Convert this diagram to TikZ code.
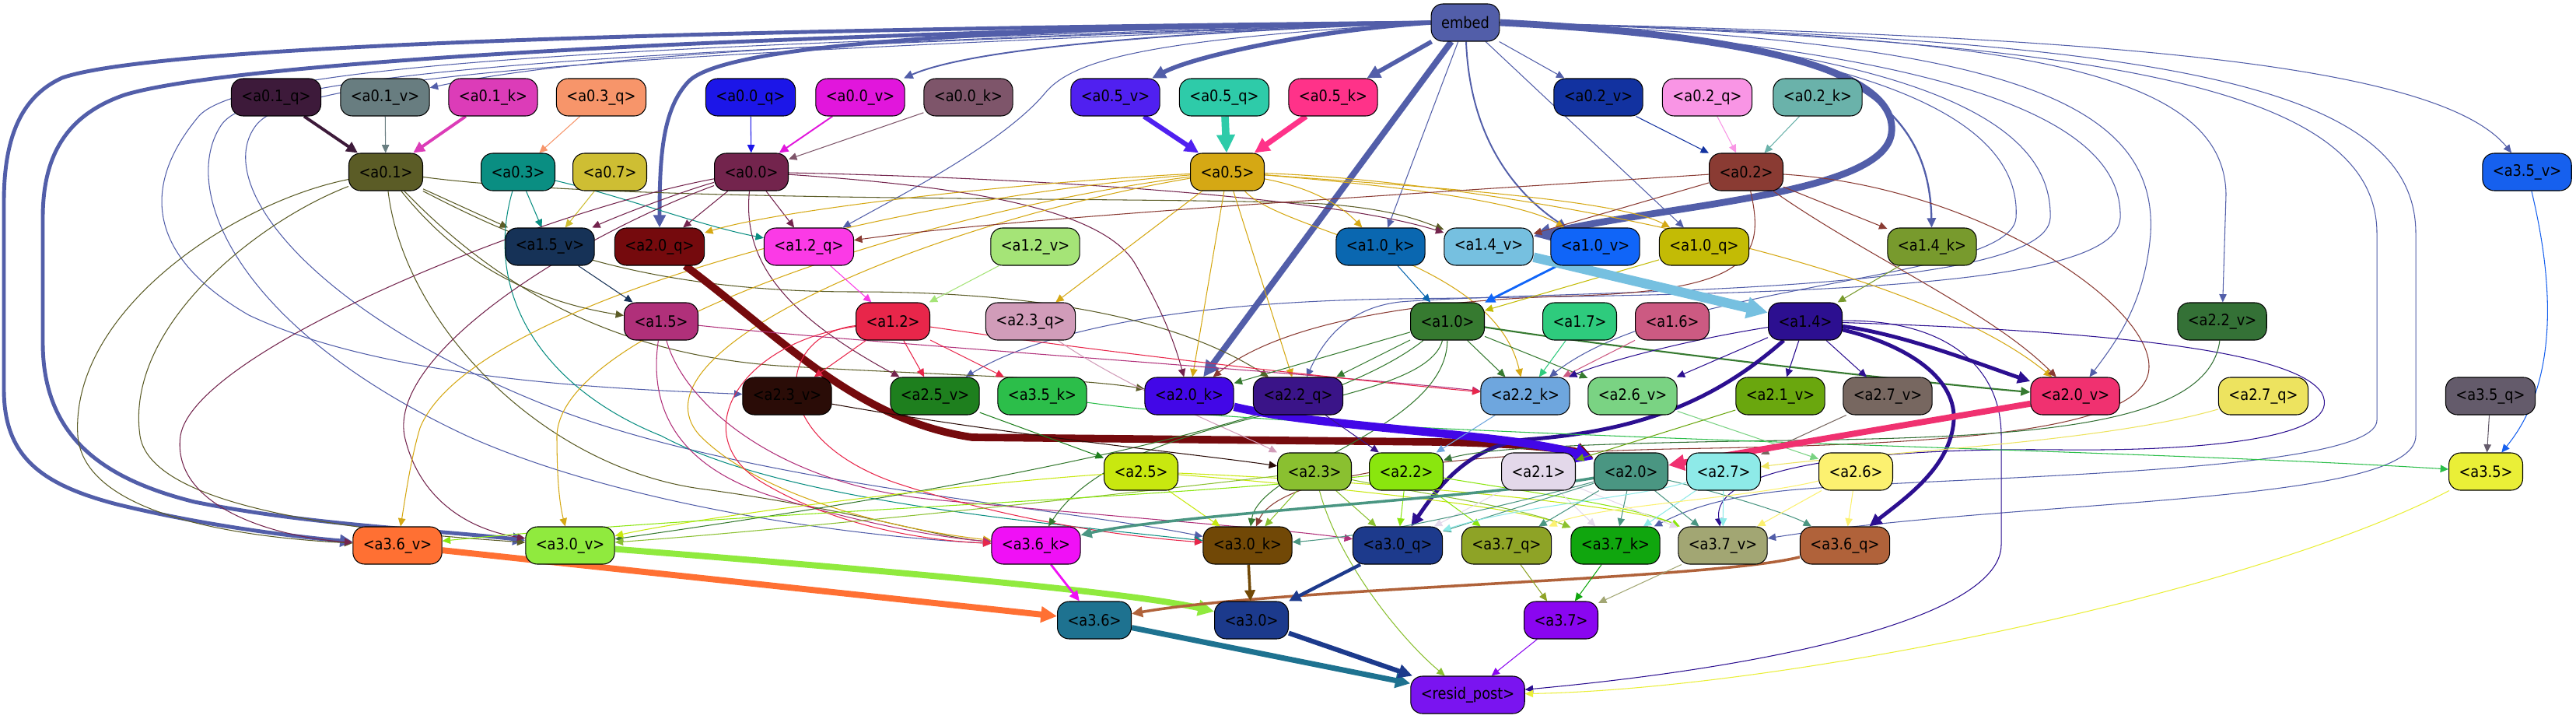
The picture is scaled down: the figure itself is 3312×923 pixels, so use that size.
\documentclass[tikz,border=0pt]{standalone}
\usepackage{fontspec}
\usetikzlibrary{arrows.meta}
\newfontfamily\nodefont[FakeStretch=0.88]{DejaVu Sans}
\pgfdeclarelayer{bg}
\pgfsetlayers{bg,main}
\definecolor{cE}{HTML}{525EA9}
\definecolor{c01q}{HTML}{3D1A3A}
\definecolor{c01v}{HTML}{687D80}
\definecolor{c01k}{HTML}{DC3CB8}
\definecolor{c03q}{HTML}{F7956A}
\definecolor{c00q}{HTML}{1C16E8}
\definecolor{c00v}{HTML}{E116DC}
\definecolor{c00k}{HTML}{7E556A}
\definecolor{c05v}{HTML}{5020F0}
\definecolor{c05q}{HTML}{2ECBA9}
\definecolor{c05k}{HTML}{FF3289}
\definecolor{c02v}{HTML}{1232A0}
\definecolor{c02q}{HTML}{F995E5}
\definecolor{c02k}{HTML}{6AB2AA}
\definecolor{c01}{HTML}{5B5C26}
\definecolor{c03}{HTML}{0A8E82}
\definecolor{c07}{HTML}{CEBE33}
\definecolor{c00}{HTML}{73244D}
\definecolor{c05}{HTML}{D5A814}
\definecolor{c02}{HTML}{8A3B33}
\definecolor{c35v}{HTML}{1660EE}
\definecolor{c15v}{HTML}{163257}
\definecolor{c20q}{HTML}{750A0D}
\definecolor{c12q}{HTML}{FB3AE6}
\definecolor{c12v}{HTML}{A5E477}
\definecolor{c10k}{HTML}{0A67B0}
\definecolor{c14v}{HTML}{76C0E0}
\definecolor{c10v}{HTML}{1065F8}
\definecolor{c10q}{HTML}{C3BB05}
\definecolor{c14k}{HTML}{789A2D}
\definecolor{c15}{HTML}{B0307A}
\definecolor{c12}{HTML}{E8264A}
\definecolor{c23q}{HTML}{D19CB9}
\definecolor{c10}{HTML}{367A30}
\definecolor{c17}{HTML}{2ECB7D}
\definecolor{c16}{HTML}{CC5A82}
\definecolor{c14}{HTML}{2C0F90}
\definecolor{c22v}{HTML}{347136}
\definecolor{c23v}{HTML}{2A0C07}
\definecolor{c25v}{HTML}{1E7F1E}
\definecolor{c35k}{HTML}{2CBE4A}
\definecolor{c20k}{HTML}{4207E7}
\definecolor{c22q}{HTML}{3A1488}
\definecolor{c22k}{HTML}{6EA6DE}
\definecolor{c26v}{HTML}{7AD383}
\definecolor{c21v}{HTML}{6AA70E}
\definecolor{c27v}{HTML}{776760}
\definecolor{c20v}{HTML}{F03170}
\definecolor{c27q}{HTML}{EDE35F}
\definecolor{c35q}{HTML}{645B6B}
\definecolor{c25}{HTML}{C8E80F}
\definecolor{c23}{HTML}{8AC030}
\definecolor{c22}{HTML}{8AE60E}
\definecolor{c21}{HTML}{E3D8EA}
\definecolor{c20}{HTML}{4A9682}
\definecolor{c27}{HTML}{8EEAE8}
\definecolor{c26}{HTML}{FCF170}
\definecolor{c35}{HTML}{EAEF37}
\definecolor{c36v}{HTML}{FF7033}
\definecolor{c30v}{HTML}{90EA3E}
\definecolor{c36k}{HTML}{F010F6}
\definecolor{c30k}{HTML}{714806}
\definecolor{c30q}{HTML}{1D3A8C}
\definecolor{c37q}{HTML}{8EA326}
\definecolor{c37k}{HTML}{10A60E}
\definecolor{c37v}{HTML}{A2A673}
\definecolor{c36q}{HTML}{B0623A}
\definecolor{c36}{HTML}{1E7290}
\definecolor{c30}{HTML}{1C3A8C}
\definecolor{c37}{HTML}{8A06F0}
\definecolor{cres}{HTML}{7A14F0}
\tikzset{
  nd/.style={draw=black, line width=0.6pt, rounded corners=0.3cm, minimum height=0.96cm,
    inner xsep=0.26cm, inner ysep=0pt, text=black, font={\nodefont\fontsize{11.5}{13}\selectfont}},
  ed/.style={line width=0.6pt, -{Triangle[length=5pt 1.5,width=4.5pt 1.5]}},
}
\newcommand\mynode[4]{\node[nd,fill=#1] (#2) at #3 {#4};}
\begin{document}
\begin{tikzpicture}[x=0.02cm,y=-0.02cm]
\useasboundingbox (0,0) rectangle (3312,923);
% nodes
\mynode{cE}{embed}{(1884,29)}{embed}
\mynode{c01q}{a01q}{(355,125)}{<a0.1\_q>}
\mynode{c01v}{a01v}{(495,125)}{<a0.1\_v>}
\mynode{c01k}{a01k}{(634,125)}{<a0.1\_k>}
\mynode{c03q}{a03q}{(773,125)}{<a0.3\_q>}
\mynode{c00q}{a00q}{(965,125)}{<a0.0\_q>}
\mynode{c00v}{a00v}{(1106,125)}{<a0.0\_v>}
\mynode{c00k}{a00k}{(1245,125)}{<a0.0\_k>}
\mynode{c05v}{a05v}{(1434,125)}{<a0.5\_v>}
\mynode{c05q}{a05q}{(1574,125)}{<a0.5\_q>}
\mynode{c05k}{a05k}{(1714,125)}{<a0.5\_k>}
\mynode{c02v}{a02v}{(2055,125)}{<a0.2\_v>}
\mynode{c02q}{a02q}{(2195,125)}{<a0.2\_q>}
\mynode{c02k}{a02k}{(2337,125)}{<a0.2\_k>}
\mynode{c01}{a01}{(496,221)}{<a0.1>}
\mynode{c03}{a03}{(666,221)}{<a0.3>}
\mynode{c07}{a07}{(784,221)}{<a0.7>}
\mynode{c00}{a00}{(966,221)}{<a0.0>}
\mynode{c05}{a05}{(1578,221)}{<a0.5>}
\mynode{c02}{a02}{(2245,221)}{<a0.2>}
\mynode{c35v}{a35v}{(3249,221)}{<a3.5\_v>}
\mynode{c15v}{a15v}{(707,317)}{<a1.5\_v>}
\mynode{c20q}{a20q}{(848,317)}{<a2.0\_q>}
\mynode{c12q}{a12q}{(1040,317)}{<a1.2\_q>}
\mynode{c12v}{a12v}{(1331,317)}{<a1.2\_v>}
\mynode{c10k}{a10k}{(1775,317)}{<a1.0\_k>}
\mynode{c14v}{a14v}{(1914,317)}{<a1.4\_v>}
\mynode{c10v}{a10v}{(2051,317)}{<a1.0\_v>}
\mynode{c10q}{a10q}{(2191,317)}{<a1.0\_q>}
\mynode{c14k}{a14k}{(2484,317)}{<a1.4\_k>}
\mynode{c15}{a15}{(850,413)}{<a1.5>}
\mynode{c12}{a12}{(1148,413)}{<a1.2>}
\mynode{c23q}{a23q}{(1325,413)}{<a2.3\_q>}
\mynode{c10}{a10}{(1861,413)}{<a1.0>}
\mynode{c17}{a17}{(2031,413)}{<a1.7>}
\mynode{c16}{a16}{(2150,413)}{<a1.6>}
\mynode{c14}{a14}{(2321,413)}{<a1.4>}
\mynode{c22v}{a22v}{(2857,413)}{<a2.2\_v>}
\mynode{c23v}{a23v}{(1012,509)}{<a2.3\_v>}
\mynode{c25v}{a25v}{(1202,509)}{<a2.5\_v>}
\mynode{c35k}{a35k}{(1340,509)}{<a3.5\_k>}
\mynode{c20k}{a20k}{(1529,509)}{<a2.0\_k>}
\mynode{c22q}{a22q}{(1669,509)}{<a2.2\_q>}
\mynode{c22k}{a22k}{(1961,509)}{<a2.2\_k>}
\mynode{c26v}{a26v}{(2099,509)}{<a2.6\_v>}
\mynode{c21v}{a21v}{(2289,509)}{<a2.1\_v>}
\mynode{c27v}{a27v}{(2427,509)}{<a2.7\_v>}
\mynode{c20v}{a20v}{(2668,509)}{<a2.0\_v>}
\mynode{c27q}{a27q}{(2910,509)}{<a2.7\_q>}
\mynode{c35q}{a35q}{(3202,509)}{<a3.5\_q>}
\mynode{c25}{a25}{(1467,606)}{<a2.5>}
\mynode{c23}{a23}{(1690,606)}{<a2.3>}
\mynode{c22}{a22}{(1808,606)}{<a2.2>}
\mynode{c21}{a21}{(1978,606)}{<a2.1>}
\mynode{c20}{a20}{(2097,606)}{<a2.0>}
\mynode{c27}{a27}{(2216,606)}{<a2.7>}
\mynode{c26}{a26}{(2386,606)}{<a2.6>}
\mynode{c35}{a35}{(3196,606)}{<a3.5>}
\mynode{c36v}{a36v}{(511,701)}{<a3.6\_v>}
\mynode{c30v}{a30v}{(733,701)}{<a3.0\_v>}
\mynode{c36k}{a36k}{(1332,701)}{<a3.6\_k>}
\mynode{c30k}{a30k}{(1604,701)}{<a3.0\_k>}
\mynode{c30q}{a30q}{(1797,701)}{<a3.0\_q>}
\mynode{c37q}{a37q}{(1937,701)}{<a3.7\_q>}
\mynode{c37k}{a37k}{(2077,701)}{<a3.7\_k>}
\mynode{c37v}{a37v}{(2215,701)}{<a3.7\_v>}
\mynode{c36q}{a36q}{(2372,701)}{<a3.6\_q>}
\mynode{c36}{a36}{(1407,797)}{<a3.6>}
\mynode{c30}{a30}{(1609,797)}{<a3.0>}
\mynode{c37}{a37}{(2007,797)}{<a3.7>}
\mynode{cres}{resid}{(1887,893)}{<resid\_post>}
\begin{pgfonlayer}{bg}
\fill[white] (0,0) rectangle (3312,923);
% ---- embed edges
\draw[ed,cE,line width=2.8pt] (embed.west) .. controls (900,38) and (200,58) .. (80,100) .. controls (25,125) and (5,180) .. (5,260) -- (5,500) .. controls (5,585) and (50,622) .. (150,648) .. controls (260,675) and (380,690) .. (a36v);
\draw[ed,cE,line width=2.8pt] (embed.west) .. controls (900,44) and (290,82) .. (160,122) .. controls (85,148) and (55,200) .. (55,280) -- (55,440) .. controls (55,560) and (130,615) .. (250,645) .. controls (400,675) and (550,680) .. (a30v);
\draw[ed,cE,line width=2.8pt] (embed.west) .. controls (1250,36) and (930,58) .. (885,105) .. controls (852,140) and (848,200) .. (a20q);
\draw[ed,cE,line width=4.5pt] (embed) -- (a20k);
\draw[ed,cE,line width=3.2pt] (embed.west) .. controls (1700,38) and (1540,70) .. (a05v);
\draw[ed,cE,line width=3.2pt] (embed) -- (a05k);
\draw[ed,cE,line width=5pt] (embed.east) .. controls (2250,45) and (2440,90) .. (2432,170) .. controls (2424,250) and (2150,262) .. (a14v);
\draw[ed,cE,line width=1.3pt] (embed.east) .. controls (2330,42) and (2480,110) .. (a14k);
\draw[ed,cE,line width=1.1pt] (embed) .. controls (1890,180) and (1950,250) .. (a10v);
\draw[ed,cE] (embed) -- (a10k);
\draw[ed,cE] (embed) -- (a10q);
\draw[ed,cE] (embed) -- (a02v);
\draw[ed,cE] (embed.west) .. controls (1300,48) and (800,60) .. (a01v);
\draw[ed,cE,line width=1.1pt] (embed.west) .. controls (1500,42) and (1250,62) .. (a00v);
\draw[ed,cE] (embed.west) .. controls (1500,50) and (1385,72) .. (1345,118) .. controls (1290,185) and (1150,255) .. (a12q);
\draw[ed,cE] (embed.east) .. controls (2650,45) and (3130,75) .. (a35v);
\draw[ed,cE] (embed.east) .. controls (2550,45) and (2860,80) .. (2862,250) -- (a22v);
\draw[ed,cE] (embed.east) .. controls (2550,52) and (2775,120) .. (2765,300) .. controls (2758,390) and (2720,440) .. (a20v);
\draw[ed,cE] (embed.east) .. controls (2400,60) and (2600,150) .. (2592,280) .. controls (2585,362) and (2150,360) .. (a22k);
\draw[ed,cE] (embed.east) .. controls (2450,62) and (2640,150) .. (2636,280) .. controls (2632,382) and (2000,372) .. (1800,388) .. controls (1730,396) and (1700,440) .. (a22q);
\draw[ed,cE] (embed.east) .. controls (2500,64) and (2730,150) .. (2726,280) .. controls (2722,372) and (2300,378) .. (1800,384) .. controls (1500,388) and (1330,430) .. (a25v);
\draw[ed,cE] (embed.west) .. controls (1000,55) and (320,72) .. (255,150) .. controls (180,240) and (190,330) .. (320,405) .. controls (500,490) and (800,500) .. (a23v);
\draw[ed,cE] (embed.west) .. controls (1000,60) and (340,80) .. (285,160) .. controls (230,240) and (300,420) .. (600,560) .. controls (800,650) and (1100,690) .. (a36k);
\draw[ed,cE] (embed.west) .. controls (1000,65) and (390,85) .. (330,160) .. controls (270,235) and (400,400) .. (700,520) .. controls (950,620) and (1350,650) .. (a30k);
\draw[ed,cE] (embed.east) .. controls (2750,50) and (3106,100) .. (3106,300) -- (3106,560) .. controls (3106,650) and (2600,640) .. (a37v);
\draw[ed,cE] (embed.east) .. controls (2700,52) and (3056,110) .. (3056,300) -- (3056,540) .. controls (3056,610) and (2500,612) .. (2300,630) .. controls (2200,640) and (2160,660) .. (a37k);
% ---- row1 -> row2
\draw[ed,c01q,line width=2.2pt] (a01q) -- (a01);
\draw[ed,c01v] (a01v) -- (a01);
\draw[ed,c01k,line width=2.2pt] (a01k) -- (a01);
\draw[ed,c03q] (a03q) -- (a03);
\draw[ed,c00q] (a00q) -- (a00);
\draw[ed,c00v,line width=1.1pt] (a00v) -- (a00);
\draw[ed,c00k] (a00k) -- (a00);
\draw[ed,c05v,line width=3.5pt] (a05v) -- (a05);
\draw[ed,c05q,line width=5.5pt] (a05q) -- (a05);
\draw[ed,c05k,line width=4pt] (a05k) -- (a05);
\draw[ed,c02v] (a02v) -- (a02);
\draw[ed,c02q] (a02q) -- (a02);
\draw[ed,c02k] (a02k) -- (a02);
% ---- a0.1
\draw[ed,c01] (a01) -- (a15v);
\draw[ed,c01] (a01) .. controls (560,300) and (640,380) .. (a15);
\draw[ed,c01] (a01) .. controls (650,380) and (800,455) .. (1000,470) .. controls (1200,482) and (1380,485) .. (a20k);
\draw[ed,c01] (a01) .. controls (650,300) and (800,375) .. (1100,375) .. controls (1300,375) and (1500,400) .. (a22q);
\draw[ed,c01] (a01) .. controls (800,262) and (1500,252) .. (1700,262) .. controls (1790,268) and (1830,285) .. (a14v);
\draw[ed,c01] (a01) .. controls (300,260) and (90,400) .. (100,560) .. controls (108,660) and (300,690) .. (a36v);
\draw[ed,c01] (a01) .. controls (330,285) and (160,420) .. (180,560) .. controls (195,660) and (500,685) .. (a30v);
\draw[ed,c01] (a01) .. controls (520,420) and (700,600) .. (900,628) .. controls (1100,655) and (1200,690) .. (a36k);
% ---- a0.3, a0.7
\draw[ed,c03] (a03) -- (a15v);
\draw[ed,c03] (a03) .. controls (800,252) and (900,290) .. (a12q);
\draw[ed,c03] (a03) .. controls (620,380) and (700,500) .. (850,560) .. controls (1000,640) and (1300,668) .. (a30k);
\draw[ed,c07] (a07) -- (a15v);
% ---- a0.0
\draw[ed,c00] (a00) .. controls (880,245) and (800,275) .. (a15v);
\draw[ed,c00] (a00) -- (a20q);
\draw[ed,c00] (a00) -- (a12q);
\draw[ed,c00] (a00) .. controls (1300,228) and (1700,250) .. (a14v);
\draw[ed,c00] (a00) .. controls (1250,240) and (1420,270) .. (1460,340) .. controls (1495,400) and (1510,440) .. (a20k);
\draw[ed,c00] (a00) .. controls (955,330) and (1000,400) .. (a25v);
\draw[ed,c00] (a00) .. controls (700,270) and (250,450) .. (232,560) .. controls (220,650) and (350,690) .. (a36v);
\draw[ed,c00] (a00) .. controls (750,300) and (500,450) .. (520,560) .. controls (538,640) and (600,680) .. (a30v);
% ---- a0.5
\draw[ed,c05] (a05) .. controls (1300,235) and (1000,270) .. (a20q);
\draw[ed,c05] (a05) .. controls (1680,240) and (1720,260) .. (a10k);
\draw[ed,c05] (a05) .. controls (1750,235) and (1950,255) .. (a10v);
\draw[ed,c05] (a05) .. controls (1800,238) and (2080,255) .. (a10q);
\draw[ed,c05] (a05) .. controls (1900,232) and (2450,330) .. (a20v);
\draw[ed,c05] (a05) -- (a23q);
\draw[ed,c05] (a05) -- (a20k);
\draw[ed,c05] (a05) -- (a22q);
\draw[ed,c05] (a05) .. controls (1650,300) and (1920,330) .. (a22k);
\draw[ed,c05] (a05) .. controls (1100,260) and (600,400) .. (540,550) .. controls (528,590) and (521,640) .. (a36v);
\draw[ed,c05] (a05) .. controls (1200,270) and (720,420) .. (716,560) .. controls (716,620) and (720,650) .. (a30v);
\draw[ed,c05] (a05) .. controls (1200,285) and (800,450) .. (900,560) .. controls (980,640) and (1150,680) .. (a36k);
% ---- a0.2
\draw[ed,c02] (a02) .. controls (1800,250) and (1300,280) .. (a12q);
\draw[ed,c02] (a02) -- (a14v);
\draw[ed,c02] (a02) -- (a14k);
\draw[ed,c02] (a02) .. controls (2270,330) and (2250,372) .. (2031,380) .. controls (1800,386) and (1640,420) .. (a20k);
\draw[ed,c02] (a02) .. controls (2400,330) and (2560,400) .. (a20v);
\draw[ed,c02] (a02) .. controls (2550,240) and (2780,400) .. (2762,480) .. controls (2745,555) and (2500,570) .. (2200,576) .. controls (1800,582) and (1640,620) .. (a30k);
% ---- row3 -> row4
\draw[ed,c15v] (a15v) -- (a15);
\draw[ed,c20q,line width=5.5pt] (a20q) .. controls (1000,430) and (1100,540) .. (1250,562) -- (1850,568) .. controls (1960,570) and (2020,578) .. (a20);
\draw[ed,c12q] (a12q) -- (a12);
\draw[ed,c12v] (a12v) -- (a12);
\draw[ed,c10k] (a10k) -- (a10);
\draw[ed,c10v,line width=1.6pt] (a10v) -- (a10);
\draw[ed,c10q] (a10q) -- (a10);
\draw[ed,c14v,line width=7pt] (a14v) -- (a14);
\draw[ed,c14k] (a14k) -- (a14);
% ---- a1.5, a1.2
\draw[ed,c15] (a15) .. controls (1100,440) and (1700,480) .. (a22k);
\draw[ed,c15] (a15) .. controls (880,520) and (1000,622) .. (1200,642) .. controls (1500,670) and (1650,680) .. (a30q);
\draw[ed,c15] (a15) .. controls (830,550) and (900,610) .. (1000,640) .. controls (1100,670) and (1200,690) .. (a36k);
\draw[ed,c12] (a12) -- (a23v);
\draw[ed,c12] (a12) -- (a25v);
\draw[ed,c12] (a12) -- (a35k);
\draw[ed,c12] (a12) .. controls (1400,450) and (1700,485) .. (a22k);
\draw[ed,c12] (a12) .. controls (950,440) and (880,560) .. (980,620) .. controls (1080,680) and (1200,695) .. (a36k);
\draw[ed,c12] (a12) .. controls (1000,430) and (980,560) .. (1150,620) .. controls (1300,670) and (1450,690) .. (a30k);
\draw[ed,c23q] (a23q) .. controls (1450,500) and (1600,560) .. (a23);
% ---- a1.0
\draw[ed,c10] (a10) -- (a20k);
\draw[ed,c10] (a10) -- (a22q);
\draw[ed,c10] (a10) -- (a22k);
\draw[ed,c10] (a10) -- (a26v);
\draw[ed,c10,line width=1.2pt] (a10) .. controls (2100,450) and (2450,490) .. (a20v);
\draw[ed,c10] (a10) .. controls (1700,540) and (1300,620) .. (a30v);
\draw[ed,c10] (a10) .. controls (1830,530) and (1450,520) .. (a36k);
\draw[ed,c10] (a10) .. controls (1860,550) and (1620,600) .. (a30k);
\draw[ed,c17] (a17) -- (a22k);
\draw[ed,c16] (a16) -- (a22k);
% ---- a1.4
\draw[ed,c14] (a14) .. controls (2150,440) and (2050,470) .. (a22k);
\draw[ed,c14] (a14) -- (a26v);
\draw[ed,c14] (a14) -- (a21v);
\draw[ed,c14] (a14) -- (a27v);
\draw[ed,c14,line width=2.8pt] (a14) .. controls (2450,430) and (2550,470) .. (a20v);
\draw[ed,c14,line width=2.8pt] (a14) .. controls (2200,520) and (2100,555) .. (1960,565) .. controls (1880,575) and (1840,640) .. (a30q);
\draw[ed,c14,line width=2.8pt] (a14) .. controls (2440,440) and (2515,480) .. (2512,540) .. controls (2508,600) and (2450,640) .. (a36q);
\draw[ed,c14] (a14) .. controls (2500,410) and (2573,470) .. (2573,560) -- (2573,700) .. controls (2573,790) and (2300,855) .. (resid);
\draw[ed,c14] (a14) .. controls (2700,425) and (2950,450) .. (2985,505) .. controls (3015,560) and (2850,580) .. (2650,578) .. controls (2400,575) and (2200,600) .. (a37v);
% ---- row5 -> row6
\draw[ed,c22v] (a22v) .. controls (2840,550) and (2600,562) .. (2300,566) .. controls (2000,570) and (1900,578) .. (a22);
\draw[ed,c23v] (a23v) .. controls (1300,560) and (1550,585) .. (a23);
\draw[ed,c25v] (a25v) -- (a25);
\draw[ed,c35k] (a35k) .. controls (1700,560) and (2700,575) .. (a35);
\draw[ed,c20k,line width=6pt] (a20k) .. controls (1700,550) and (1950,558) .. (a20);
\draw[ed,c22q] (a22q) -- (a22);
\draw[ed,c22k] (a22k) -- (a22);
\draw[ed,c26v] (a26v) -- (a26);
\draw[ed,c21v] (a21v) -- (a21);
\draw[ed,c27v] (a27v) -- (a27);
\draw[ed,c20v,line width=4.5pt] (a20v) -- (a20);
\draw[ed,c27q] (a27q) .. controls (2700,570) and (2400,582) .. (a27);
\draw[ed,c35q] (a35q) -- (a35);
\draw[ed,c35v] (a35v) .. controls (3275,330) and (3300,480) .. (a35);
% ---- row6 -> row7
\draw[ed,c25] (a25) .. controls (1200,625) and (900,665) .. (a30v);
\draw[ed,c25] (a25) -- (a30k);
\draw[ed,c25] (a25) .. controls (1700,625) and (1950,650) .. (a37k);
\draw[ed,c25] (a25) .. controls (1800,620) and (2100,650) .. (a37v);
\draw[ed,c23] (a23) .. controls (1400,640) and (1000,682) .. (a30v);
\draw[ed,c23] (a23) -- (a30k);
\draw[ed,c23] (a23) -- (a30q);
\draw[ed,c23] (a23) .. controls (1720,720) and (1800,820) .. (resid);
\draw[ed,c23] (a23) .. controls (1800,630) and (1950,650) .. (a37k);
\draw[ed,c22] (a22) .. controls (1500,640) and (900,662) .. (a36v);
\draw[ed,c22] (a22) -- (a37q);
\draw[ed,c22] (a22) -- (a30q);
\draw[ed,c22] (a22) .. controls (1950,630) and (2100,650) .. (a37v);
\draw[ed,c21] (a21) -- (a30q);
\draw[ed,c21] (a21) -- (a37k);
\draw[ed,c21] (a21) -- (a37v);
\draw[ed,c20,line width=2pt] (a20) .. controls (1900,640) and (1500,662) .. (a36k);
\draw[ed,c20] (a20) .. controls (1900,660) and (1750,690) .. (a30k);
\draw[ed,c20] (a20) -- (a30q);
\draw[ed,c20] (a20) -- (a37q);
\draw[ed,c20] (a20) -- (a37k);
\draw[ed,c20] (a20) -- (a37v);
\draw[ed,c20] (a20) .. controls (2200,630) and (2300,660) .. (a36q);
\draw[ed,c27] (a27) -- (a37k);
\draw[ed,c27] (a27) -- (a37v);
\draw[ed,c27] (a27) .. controls (2100,640) and (1950,650) .. (a30q);
\draw[ed,c26] (a26) -- (a37v);
\draw[ed,c26] (a26) -- (a36q);
\draw[ed,c26] (a26) .. controls (2250,640) and (2050,650) .. (a37q);
\draw[ed,c35] (a35) .. controls (2900,760) and (2300,885) .. (resid);
% ---- row7 -> row8 -> row9
\draw[ed,c36v,line width=4.5pt] (a36v) -- (a36);
\draw[ed,c30v,line width=4.5pt] (a30v) .. controls (1100,730) and (1450,760) .. (a30);
\draw[ed,c36k,line width=1.6pt] (a36k) -- (a36);
\draw[ed,c36q,line width=2pt] (a36q) .. controls (2200,745) and (1650,755) .. (a36);
\draw[ed,c30k,line width=2pt] (a30k) -- (a30);
\draw[ed,c30q,line width=2.5pt] (a30q) -- (a30);
\draw[ed,c37q] (a37q) -- (a37);
\draw[ed,c37k] (a37k) -- (a37);
\draw[ed,c37v] (a37v) -- (a37);
\draw[ed,c36,line width=4pt] (a36) -- (resid);
\draw[ed,c30,line width=3.5pt] (a30) -- (resid);
\draw[ed,c37] (a37) -- (resid);
\end{pgfonlayer}
\end{tikzpicture}
\end{document}
